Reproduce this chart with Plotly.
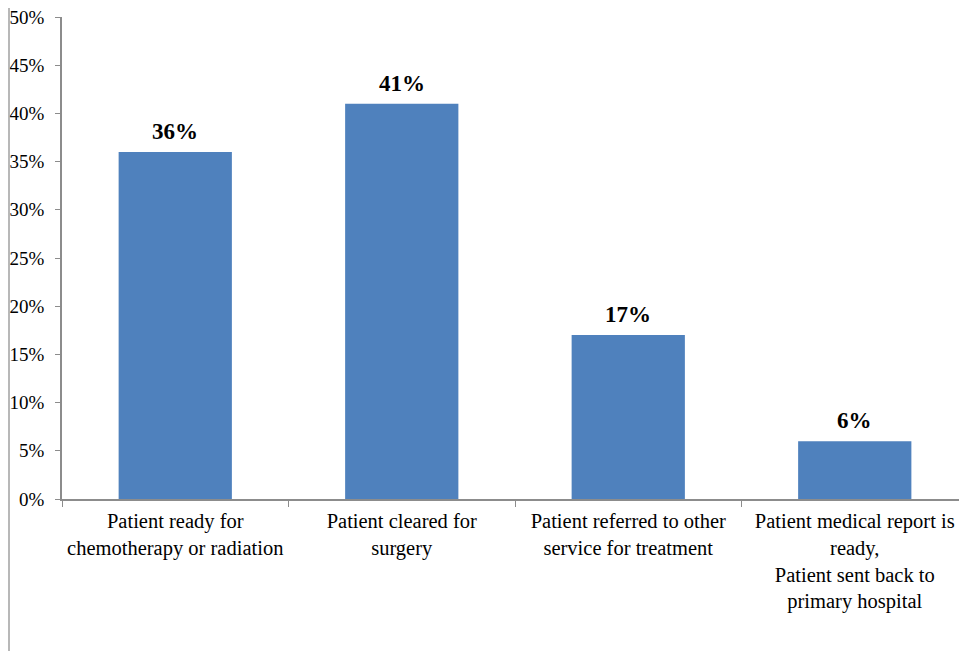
import plotly.graph_objects as go

categories = [
    "Patient ready for<br>chemotherapy or radiation",
    "Patient cleared for<br>surgery",
    "Patient referred to other<br>service for treatment",
    "Patient medical report is<br>ready,<br>Patient sent back to<br>primary hospital",
]
values = [0.36, 0.41, 0.17, 0.06]
labels = ["36%", "41%", "17%", "6%"]
y_ticks = [0, 0.05, 0.1, 0.15, 0.2, 0.25, 0.3, 0.35, 0.4, 0.45, 0.5]

W, H = 967, 651
ml, mr, mt, mb = 54, 7, 9, 160
FONT = "Liberation Serif"

fig = go.Figure()
fig.add_trace(go.Bar(x=categories, y=values, marker=dict(color="#4F81BD", line=dict(width=0)),
                     hoverinfo="skip"))

for c, v, t in zip(categories, values, labels):
    fig.add_annotation(x=c, y=v, text="<b>%s</b>" % t, showarrow=False, yanchor="bottom",
                       yshift=6, font=dict(family=FONT, size=23, color="black"))

axcol = "#8c8c8c"
fig.update_layout(
    width=W, height=H,
    margin=dict(l=ml, r=mr, t=mt, b=mb, autoexpand=False),
    paper_bgcolor="white", plot_bgcolor="white",
    bargap=0.5, showlegend=False,
    font=dict(family=FONT, color="black"),
    xaxis=dict(showline=True, linecolor=axcol, linewidth=1.5, ticks="outside", tickson="boundaries",
               ticklen=6, tickcolor=axcol, tickwidth=1, tickfont=dict(family=FONT, size=20.5),
               showgrid=False, tickangle=0, automargin=False, ticklabelstandoff=3),
    yaxis=dict(range=[0, 0.5], tickvals=y_ticks,
               tickformat=".0%", showline=True, linecolor=axcol,
               linewidth=1.5, ticks="outside", ticklen=5, tickcolor=axcol, tickwidth=1,
               tickfont=dict(family=FONT, size=19), showgrid=False, zeroline=False,
               automargin=False, ticklabeloverflow="allow", ticklabelstandoff=7),
    shapes=[dict(type="line", xref="paper", yref="paper",
                 x0=(1 - ml) / (W - ml - mr), x1=(1 - ml) / (W - ml - mr),
                 y0=-mb / (H - mt - mb), y1=1 + mt / (H - mt - mb),
                 line=dict(color="#a0a0a0", width=1.5))],
)

fig.write_html("out.html")
